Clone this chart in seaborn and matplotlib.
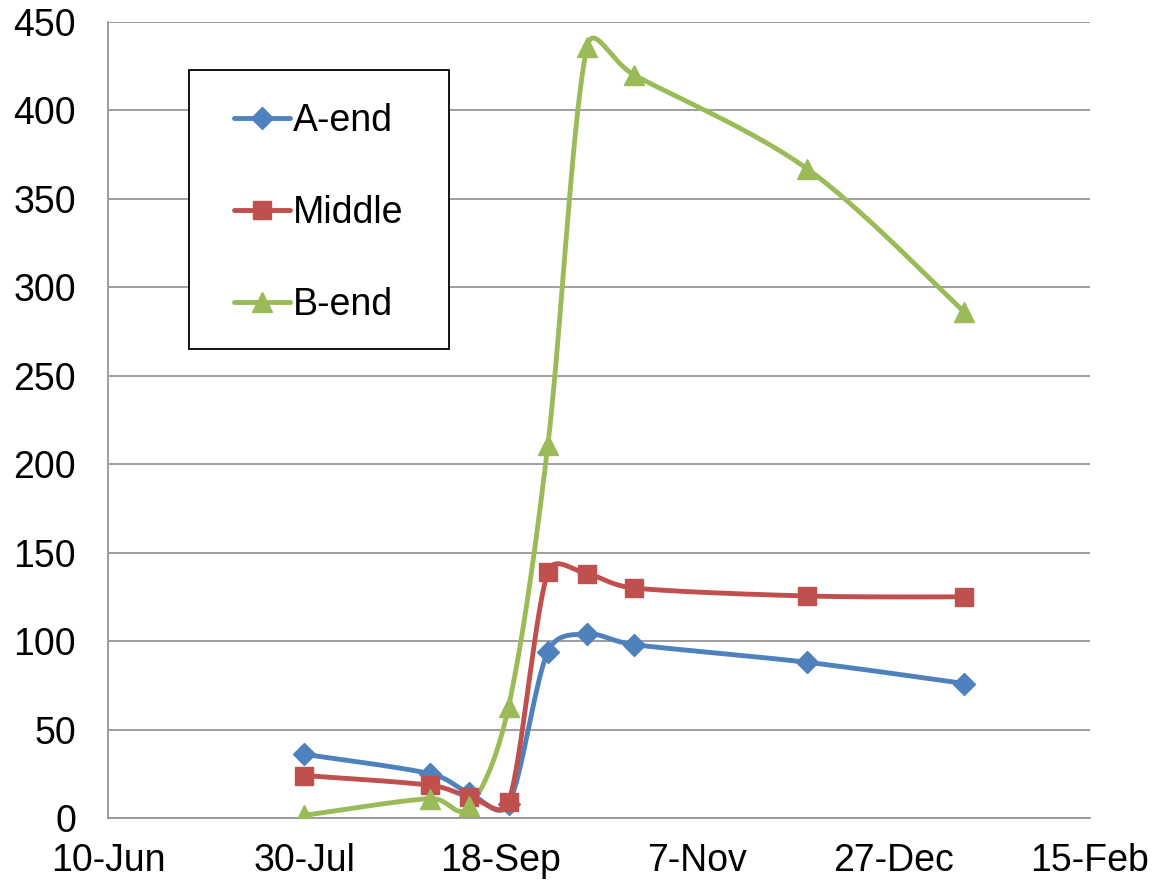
import numpy as np
import pandas as pd
import matplotlib
matplotlib.use("Agg")
import matplotlib.pyplot as plt
import matplotlib.dates as mdates
from matplotlib.lines import Line2D
from matplotlib.patches import Rectangle
import seaborn as sns

# Sampling dates and readings
dates = ["2013-07-30", "2013-08-31", "2013-09-10", "2013-09-20", "2013-09-30",
         "2013-10-10", "2013-10-22", "2013-12-05", "2014-01-14"]
a_end = [36, 25, 14, 8, 94, 104, 98, 88, 76]
middle = [24, 18.5, 12, 9, 139, 138, 130, 125.5, 125]
b_end = [1.5, 11, 6.5, 63, 211, 436, 420, 367, 286]

series_names = ["A-end", "Middle", "B-end"]
series_values = [a_end, middle, b_end]
colors = ["#4F81BD", "#C0504D", "#9BBB59"]
markers = ["D", "s", "^"]
marker_sizes = [11, 12.5, 14]

tick_dates = ["2013-06-10", "2013-07-30", "2013-09-18", "2013-11-07",
              "2013-12-27", "2014-02-15"]
y_ticks = list(range(0, 451, 50))


def smooth_curve(pts, n=60):
    """Bezier smoothing in display space; handles capped at half a segment."""
    f = 1.0 / 6.0
    out = []
    m = len(pts)
    for i in range(m - 1):
        p0 = pts[i - 1] if i > 0 else pts[i]
        p1 = pts[i]
        p2 = pts[i + 1]
        p3 = pts[i + 2] if i + 2 < m else pts[i + 1]
        d02 = np.linalg.norm(p2 - p0)
        d13 = np.linalg.norm(p3 - p1)
        d12 = np.linalg.norm(p2 - p1)
        f1 = f if d02 * f < d12 / 2 or d02 == 0 else d12 / d02 / 2
        f2 = f if d13 * f < d12 / 2 or d13 == 0 else d12 / d13 / 2
        c1 = p1 + (p2 - p0) * f1
        c2 = p2 - (p3 - p1) * f2
        t = np.linspace(0, 1, n)[:, None]
        seg = ((1 - t) ** 3) * p1 + 3 * ((1 - t) ** 2) * t * c1 \
            + 3 * (1 - t) * t ** 2 * c2 + t ** 3 * p2
        out.append(seg if i == 0 else seg[1:])
    return np.vstack(out)


sns.set_style("white")
plt.rcParams["font.family"] = ["Liberation Sans", "DejaVu Sans"]
plt.rcParams["text.color"] = "black"

fig = plt.figure(figsize=(11.67, 8.8), dpi=100)
ax = fig.add_axes([0.0925, 0.0705, 0.8415, 0.9045])

tnum = mdates.date2num(pd.to_datetime(tick_dates))
ax.set_xlim(tnum[0], tnum[-1])
ax.set_ylim(0, 450)

xnum = mdates.date2num(pd.to_datetime(dates))
to_disp = ax.transData
to_data = ax.transData.inverted()

for name, vals, col, mk, ms in zip(series_names, series_values, colors,
                                   markers, marker_sizes):
    disp = to_disp.transform(np.column_stack([xnum, vals]))
    curve_disp = smooth_curve(disp)
    curve_data = to_data.transform(curve_disp)
    curve = pd.DataFrame({"x": curve_data[:, 0], "y": curve_data[:, 1]})
    sns.lineplot(data=curve, x="x", y="y", ax=ax, color=col, linewidth=3.5,
                 estimator=None, sort=False, zorder=3)
    pts = pd.DataFrame({"x": xnum, "y": vals})
    ax.plot(pts["x"], pts["y"], linestyle="none", marker=mk, markersize=ms,
            color=col, markeredgecolor=col, zorder=4)

ax.set_xlim(tnum[0], tnum[-1])
ax.set_ylim(0, 450)
ax.set_xticks(tnum)
ax.xaxis.set_major_formatter(mdates.DateFormatter("%-d-%b"))
ax.set_yticks(y_ticks)
ax.set_xlabel("")
ax.set_ylabel("")

grid_col = "#969696"
ax.grid(axis="y", color=grid_col, linewidth=1.3)
ax.grid(axis="x", visible=False)
ax.set_axisbelow(True)

for side in ["top", "right"]:
    ax.spines[side].set_visible(False)
for side in ["left", "bottom"]:
    ax.spines[side].set_visible(True)
    ax.spines[side].set_color(grid_col)
    ax.spines[side].set_linewidth(1.3)

ax.tick_params(axis="both", which="major", labelsize=27, labelcolor="black",
               length=7, width=1.3, color=grid_col, direction="out")
ax.tick_params(axis="x", pad=11)
ax.tick_params(axis="y", pad=16)

# Legend box drawn as its own frame, entries placed inside it
ax.add_patch(Rectangle((0.0825, 0.589), 0.2645, 0.3507, transform=ax.transAxes,
                       facecolor="white", edgecolor="black", linewidth=1.3,
                       zorder=5))
handles = [Line2D([0], [0], color=c, linewidth=3.5, marker=m, markersize=s,
                  markeredgecolor=c)
           for c, m, s in zip(colors, markers, marker_sizes)]
leg = ax.legend(handles, series_names, loc="center left",
                bbox_to_anchor=(0.128, 0.760), fontsize=27, frameon=False,
                labelspacing=1.5, handlelength=1.5, handletextpad=0.08,
                borderpad=0, borderaxespad=0)
leg.set_zorder(6)
for txt in leg.get_texts():
    txt.set_color("black")

fig.savefig("out.png", dpi=100, facecolor="white")
